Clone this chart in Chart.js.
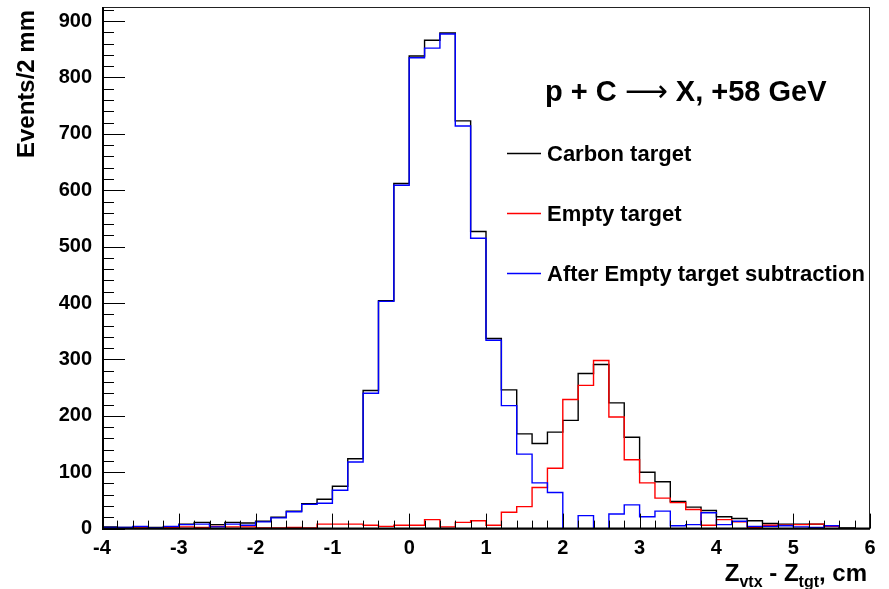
<!DOCTYPE html>
<html>
<head>
<meta charset="utf-8">
<title>Z vertex</title>
<script src="https://cdn.jsdelivr.net/npm/chart.js@4.4.0/dist/chart.umd.min.js"></script>
<style>
    html, body { margin: 0; padding: 0; background: #fff; }
    canvas { display: block; }
</style>
</head>
<body>
<canvas id="zvtxChart" width="889" height="589"></canvas>
<script>
// bin edges in cm, 2 mm bins from -4 to 6
const binEdges = [
    -4.0, -3.8, -3.6, -3.4, -3.2, -3.0, -2.8, -2.6, -2.4, -2.2,
    -2.0, -1.8, -1.6, -1.4, -1.2, -1.0, -0.8, -0.6, -0.4, -0.2,
     0.0,  0.2,  0.4,  0.6,  0.8,  1.0,  1.2,  1.4,  1.6,  1.8,
     2.0,  2.2,  2.4,  2.6,  2.8,  3.0,  3.2,  3.4,  3.6,  3.8,
     4.0,  4.2,  4.4,  4.6,  4.8,  5.0,  5.2,  5.4,  5.6,  5.8,
     6.0
]

const carbonTarget = [
    3, 2, 3, 2, 3, 8, 11, 7, 11, 10,
    13, 20, 31, 44, 52, 75, 124, 245, 404, 612,
    838, 866, 879, 723, 527, 337, 246, 168, 151, 171,
    192, 275, 291, 223, 162, 100, 83, 48, 38, 32,
    21, 18, 14, 9, 8, 8, 8, 5, 1, 0
]

const emptyTarget = [
    0, 0, 1, 0, 2, 3, 2, 4, 3, 3,
    1, 1, 2, 1, 8, 8, 8, 6, 4, 6,
    6, 16, 3, 11, 14, 6, 29, 39, 73, 107,
    229, 254, 298, 198, 122, 81, 54, 46, 34, 6,
    16, 12, 2, 6, 6, 7, 8, 4, 0, 0
]

const afterSubtraction = [
    2, 2, 4, 1, 4, 7, 8, 3, 8, 6,
    12, 19, 30, 43, 45, 68, 118, 240, 403, 609,
    835, 852, 877, 714, 515, 334, 218, 132, 81, 64,
    0, 23, 0, 26, 42, 21, 31, 5, 7, 28,
    7, 13, 4, 4, 5, 3, 2, 5, 0, 0
]

const seriesColors = ['#000000', '#ff0000', '#0000ff']

const xTickValues = [-4, -3, -2, -1, 0, 1, 2, 3, 4, 5, 6]
const xTickLabels = ['-4', '-3', '-2', '-1', '0', '1', '2', '3', '4', '5', '6']
const yTickValues = [0, 100, 200, 300, 400, 500, 600, 700, 800, 900]
const yTickLabels = ['0', '100', '200', '300', '400', '500', '600', '700', '800', '900']

const FONT = '"Liberation Sans", Arial, sans-serif'

// ROOT-like outline: start and end on the baseline
function histPoints(values) {
    const pts = [{ x: binEdges[0], y: 0 }]
    values.forEach((v, i) => pts.push({ x: binEdges[i], y: v }))
    pts.push({ x: binEdges[binEdges.length - 1], y: 0 })
    return pts
}

function histDataset(label, values, color, order) {
    return {
        label: label,
        data: histPoints(values),
        borderColor: color,
        borderWidth: 1.4,
        stepped: true,
        pointRadius: 0,
        fill: false,
        order: order,
    }
}

// frame, inward ticks, legend and the texts
const rootStyle = {
    id: 'rootStyle',
    afterDraw(chart) {
        const { ctx, chartArea: a, scales: { x, y } } = chart
        ctx.save()

        ctx.strokeStyle = '#222'
        ctx.lineWidth = 1
        ctx.strokeRect(a.left + 0.5, a.top + 0.5, a.right - a.left - 1, a.bottom - a.top)

        ctx.strokeStyle = '#000'
        ctx.lineWidth = 2
        ctx.beginPath()
        ctx.moveTo(a.left + 1, a.top)
        ctx.lineTo(a.left + 1, a.bottom)
        ctx.lineTo(a.right, a.bottom)
        ctx.stroke()

        ctx.lineWidth = 1
        ctx.beginPath()
        for (let v = 0; v <= y.max; v += 20) {
            const py = Math.round(y.getPixelForValue(v)) + 0.5
            const len = v % 100 === 0 ? 23 : 12
            ctx.moveTo(a.left, py)
            ctx.lineTo(a.left + len, py)
        }
        for (let i = 0; i < binEdges.length; i++) {
            const v = binEdges[i]
            const px = Math.round(x.getPixelForValue(v)) + 0.5
            const len = Math.abs(v - Math.round(v)) < 1e-6 ? 15 : 8
            ctx.moveTo(px, a.bottom)
            ctx.lineTo(px, a.bottom - len)
        }
        ctx.stroke()

        // header, with a thin long arrow like ROOT's symbol font
        ctx.fillStyle = '#000'
        ctx.textAlign = 'left'
        ctx.textBaseline = 'alphabetic'
        const head = [
            ['p + C ', 'bold 29px ' + FONT],
            ['\u27F6', '30px "DejaVu Sans"'],
            [' X, +58 GeV', 'bold 29px ' + FONT],
        ]
        let hx = 545
        head.forEach(([t, f]) => {
            ctx.font = f
            ctx.fillText(t, hx, 101)
            hx += ctx.measureText(t).width
        })

        // legend
        ctx.font = 'bold 22px ' + FONT
        ctx.textBaseline = 'middle'
        chart.data.datasets.forEach((ds, i) => {
            const ly = 153.5 + i * 60
            ctx.strokeStyle = seriesColors[i]
            ctx.lineWidth = 1.3
            ctx.beginPath()
            ctx.moveTo(507, ly)
            ctx.lineTo(541, ly)
            ctx.stroke()
            ctx.fillStyle = '#000'
            ctx.fillText(ds.label, 547, ly + 1)
        })

        // y title
        ctx.save()
        ctx.translate(34, 10)
        ctx.rotate(-Math.PI / 2)
        ctx.textAlign = 'right'
        ctx.textBaseline = 'alphabetic'
        ctx.font = 'bold 24px ' + FONT
        ctx.fillText('Events/2 mm', 0, 0)
        ctx.restore()

        // x title with subscripts, right aligned
        const parts = [
            ['Z', 0, 24], ['vtx', 6, 16], [' - Z', 0, 24], ['tgt', 6, 16], [', cm', 0, 24]
        ]
        let width = 0
        parts.forEach(([t, dy, fs]) => {
            ctx.font = 'bold ' + fs + 'px ' + FONT
            width += ctx.measureText(t).width
        })
        let tx = 867 - width
        ctx.textAlign = 'left'
        ctx.textBaseline = 'alphabetic'
        parts.forEach(([t, dy, fs]) => {
            ctx.font = 'bold ' + fs + 'px ' + FONT
            ctx.fillText(t, tx, 581 + dy)
            tx += ctx.measureText(t).width
        })

        ctx.restore()
    }
}

new Chart(document.getElementById('zvtxChart'), {
    type: 'line',
    data: {
        datasets: [
            histDataset('Carbon target', carbonTarget, seriesColors[0], 3),
            histDataset('Empty target', emptyTarget, seriesColors[1], 2),
            histDataset('After Empty target subtraction', afterSubtraction, seriesColors[2], 1),
        ]
    },
    options: {
        responsive: false,
        animation: false,
        devicePixelRatio: 1,
        layout: { padding: { top: 7, right: 19, left: 0, bottom: 0 } },
        plugins: {
            legend: { display: false },
            tooltip: { enabled: false },
        },
        scales: {
            x: {
                type: 'linear',
                min: -4,
                max: 6,
                afterBuildTicks: scale => { scale.ticks = xTickValues.map(v => ({ value: v })) },
                afterFit: scale => {
                    scale.height = 60.4
                    scale.paddingLeft = 0
                    scale.paddingRight = 0
                },
                ticks: {
                    color: '#000',
                    font: { family: FONT, size: 20, weight: 'bold' },
                    padding: 8,
                    maxRotation: 0,
                    autoSkip: false,
                    callback: (v, i) => xTickLabels[i],
                },
                grid: { display: false, drawTicks: false },
                border: { display: false },
            },
            y: {
                type: 'linear',
                min: 0,
                max: 925,
                afterBuildTicks: scale => { scale.ticks = yTickValues.map(v => ({ value: v })) },
                afterFit: scale => {
                    scale.width = 102
                    scale.paddingTop = 0
                    scale.paddingBottom = 0
                },
                ticks: {
                    color: '#000',
                    font: { family: FONT, size: 20, weight: 'bold' },
                    padding: 10,
                    callback: (v, i) => yTickLabels[i],
                },
                grid: { display: false, drawTicks: false },
                border: { display: false },
            }
        }
    },
    plugins: [rootStyle]
})
</script>
</body>
</html>
